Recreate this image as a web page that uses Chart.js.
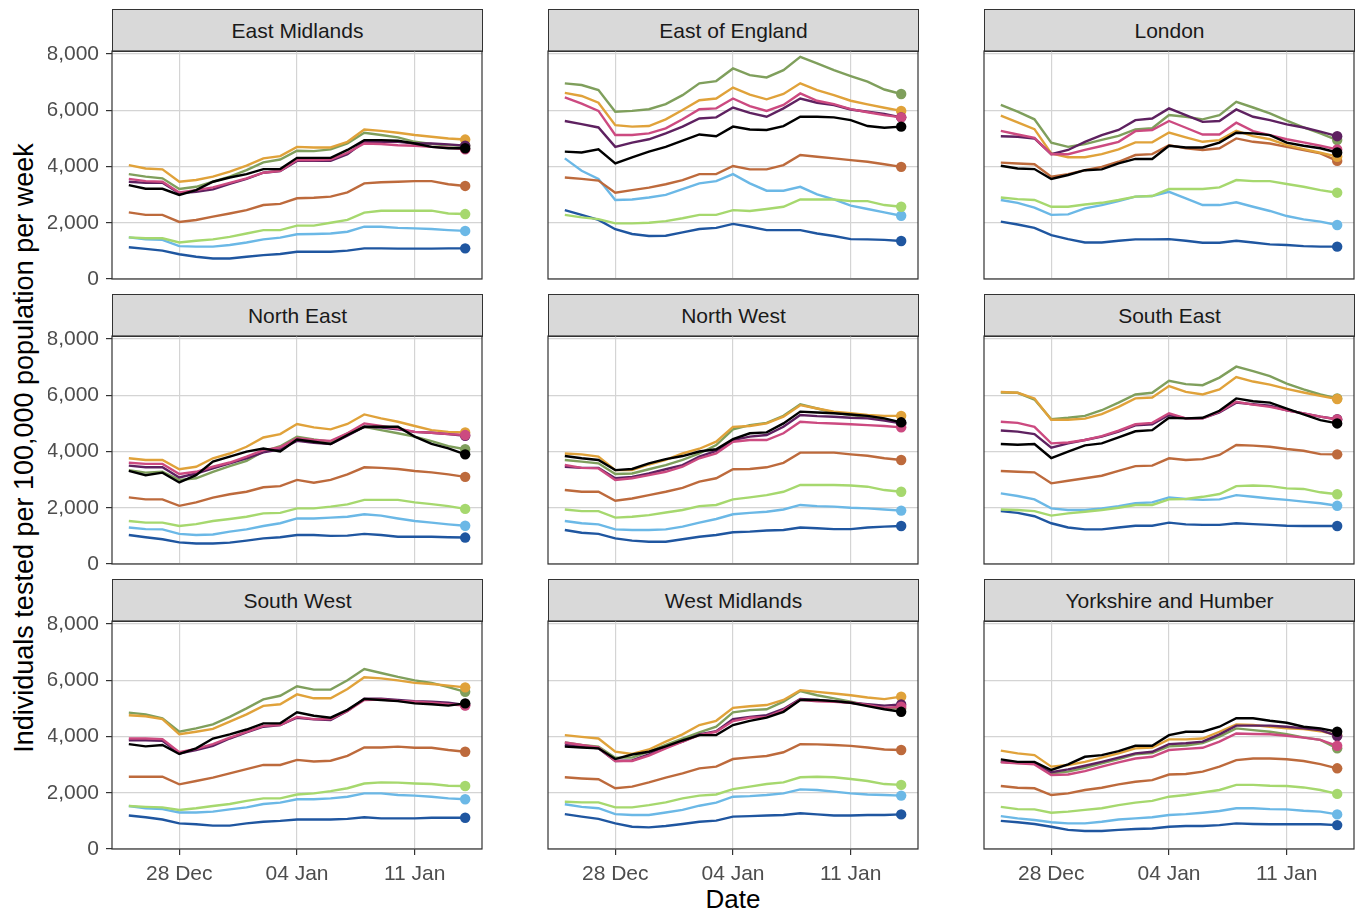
<!DOCTYPE html>
<html>
<head>
<meta charset="utf-8">
<script src="https://cdn.jsdelivr.net/npm/chart.js@4.4.1/dist/chart.umd.min.js"></script>
<style>
  body { margin: 0; background: #fff; }
  #page { position: relative; width: 1357px; height: 912px; overflow: hidden; font-family: "Liberation Sans", Arial, sans-serif; }
  .strip { position: absolute; box-sizing: border-box; background: #d9d9d9; border: 1px solid #333; color: #1a1a1a;
           font-size: 21px; display: flex; align-items: center; justify-content: center; }
  canvas { position: absolute; }
  .title { position: absolute; color: #000; white-space: nowrap; text-align: center; }
</style>
</head>
<body>
<div id="page">
  <div class="title" id="yTitle" style="left:24px; top:448px; font-size:27px; transform:translate(-50%,-50%) rotate(-90deg);">Individuals tested per 100,000 population per week</div>
  <div class="title" style="left:733px; top:899px; font-size:26px; transform:translate(-50%,-50%);">Date</div>
</div>
<script>
// days since 25 Dec (25 Dec .. 14 Jan)
const days = [0,1,2,3,4,5,6,7,8,9,10,11,12,13,14,15,16,17,18,19,20];
const tickDays = [3, 10, 17];
const tickLabels = ["28 Dec", "04 Jan", "11 Jan"];
const yTicks = [0, 2000, 4000, 6000, 8000];

const regions = ["East Midlands", "East of England", "London", "North East", "North West",
                 "South East", "South West", "West Midlands", "Yorkshire and Humber"];

// series colours, same order as the rows in every region array below
const seriesColours = ["#1f56a0", "#6bb8e6", "#a6d86e", "#bd6a3c", "#000000",
                       "#5e2160", "#cc4a80", "#e0a23a", "#7f9f5c"];
const seriesOrder = [8, 7, 6, 5, 0, 2, 1, 3, 4]; // black drawn on top

const eastMidlands = [
  [1130,1070,1010,880,790,730,730,790,850,890,970,970,970,1010,1090,1090,1080,1080,1080,1090,1090],
  [1480,1410,1390,1170,1150,1150,1210,1300,1410,1470,1590,1600,1620,1680,1860,1860,1820,1800,1780,1740,1710],
  [1480,1450,1450,1300,1360,1410,1500,1620,1740,1740,1900,1900,2000,2100,2360,2430,2430,2430,2430,2330,2310],
  [2370,2280,2280,2030,2100,2220,2330,2450,2630,2670,2870,2890,2930,3080,3400,3440,3460,3480,3480,3370,3310],
  [3340,3210,3210,2990,3160,3460,3610,3730,3910,3910,4310,4310,4310,4590,4940,4940,4920,4820,4700,4650,4650],
  [3460,3420,3420,3050,3100,3190,3380,3560,3780,3840,4200,4200,4200,4440,4880,4880,4880,4820,4820,4790,4740],
  [3560,3480,3460,3080,3160,3260,3420,3580,3780,3850,4230,4230,4250,4490,4820,4800,4760,4740,4700,4670,4610],
  [4050,3930,3900,3460,3520,3640,3820,4030,4290,4370,4700,4680,4680,4880,5320,5270,5200,5120,5060,5000,4960],
  [3730,3640,3580,3200,3280,3460,3640,3870,4150,4250,4560,4550,4610,4820,5200,5120,5040,4880,4800,4760,4740]
];
const eastOfEngland = [
  [2450,2280,2100,1770,1600,1530,1540,1660,1780,1820,1960,1860,1740,1740,1740,1620,1530,1420,1410,1390,1350],
  [4290,3850,3560,2810,2830,2900,2990,3200,3400,3480,3730,3400,3140,3140,3280,3010,2830,2610,2490,2370,2250],
  [2280,2190,2130,1980,1980,2000,2060,2160,2280,2280,2450,2420,2490,2570,2830,2830,2830,2770,2770,2630,2570],
  [3610,3560,3500,3070,3160,3250,3370,3520,3730,3730,4020,3900,3900,4050,4410,4350,4290,4230,4170,4080,3990],
  [4530,4500,4610,4110,4330,4530,4700,4920,5140,5080,5420,5320,5300,5440,5770,5770,5750,5650,5440,5380,5420],
  [5620,5510,5390,4700,4850,4970,5180,5420,5710,5750,6100,5910,5770,6070,6420,6270,6190,6030,5950,5870,5750],
  [6460,6240,5980,5120,5120,5180,5360,5680,6040,6070,6420,6150,5980,6190,6600,6340,6220,6040,5930,5830,5750],
  [6620,6510,6270,5470,5420,5440,5680,6010,6360,6420,6810,6560,6390,6580,6960,6720,6540,6340,6210,6090,5980],
  [6960,6900,6720,5950,5980,6040,6220,6540,6960,7040,7490,7250,7170,7430,7900,7670,7430,7220,7020,6740,6580]
];
const london = [
  [2040,1940,1820,1560,1420,1300,1300,1360,1410,1410,1420,1360,1290,1290,1360,1300,1230,1210,1170,1150,1150],
  [2810,2710,2540,2280,2300,2510,2630,2770,2930,2950,3100,2870,2630,2630,2730,2570,2420,2240,2120,2040,1920],
  [2900,2840,2810,2570,2570,2650,2710,2810,2930,2950,3200,3200,3200,3260,3520,3480,3480,3380,3280,3160,3070],
  [4140,4110,4080,3640,3730,3870,3990,4170,4410,4440,4760,4650,4590,4650,5000,4880,4820,4700,4590,4470,4200],
  [4030,3930,3910,3560,3700,3870,3900,4110,4270,4270,4740,4680,4680,4850,5200,5180,5120,4850,4740,4650,4500],
  [5080,5060,5000,4440,4590,4880,5120,5300,5650,5710,6070,5830,5590,5620,6030,5770,5650,5500,5390,5240,5080],
  [5270,5140,5020,4440,4440,4590,4730,4880,5260,5300,5620,5380,5140,5140,5560,5260,5120,4970,4860,4740,4610],
  [5810,5570,5330,4470,4330,4330,4440,4610,4860,4860,5210,5040,4880,4940,5270,5080,4970,4760,4620,4490,4350],
  [6190,5950,5680,4850,4700,4800,4950,5090,5320,5360,5830,5770,5680,5830,6300,6100,5890,5630,5390,5180,4940]
];
const northEast = [
  [1030,950,880,770,730,730,760,830,910,950,1030,1030,1000,1010,1070,1030,970,970,970,950,940],
  [1300,1240,1230,1070,1030,1050,1150,1230,1350,1450,1620,1620,1650,1680,1770,1720,1620,1530,1470,1410,1360],
  [1530,1470,1470,1350,1420,1530,1600,1680,1800,1820,1980,1980,2040,2120,2280,2280,2280,2190,2130,2060,1960],
  [2370,2300,2300,2070,2190,2360,2480,2570,2730,2770,2990,2890,2990,3190,3440,3420,3380,3310,3260,3190,3100],
  [3310,3160,3250,2900,3160,3640,3820,4000,4110,4000,4430,4350,4270,4590,4880,4880,4880,4530,4270,4110,3900],
  [3500,3440,3440,3080,3220,3400,3580,3760,3970,4080,4380,4310,4270,4560,4880,4850,4790,4700,4670,4620,4560],
  [3600,3560,3560,3200,3280,3460,3610,3820,4050,4150,4470,4410,4380,4650,5000,4910,4820,4700,4670,4620,4590],
  [3760,3700,3700,3370,3460,3760,3930,4170,4500,4620,4980,4860,4790,4980,5320,5180,5060,4910,4760,4700,4680],
  [3340,3250,3280,2990,3050,3280,3480,3670,4000,4190,4530,4430,4350,4650,4880,4760,4650,4530,4370,4190,4080]
];
const northWest = [
  [1210,1110,1070,910,830,790,790,880,970,1030,1130,1150,1190,1210,1300,1270,1240,1240,1300,1330,1350],
  [1530,1450,1410,1230,1210,1210,1230,1330,1470,1600,1770,1820,1860,1940,2100,2060,2040,2000,1980,1940,1900],
  [1940,1880,1880,1650,1680,1740,1830,1920,2060,2100,2300,2370,2450,2570,2810,2810,2810,2790,2750,2630,2570],
  [2630,2570,2570,2250,2330,2450,2570,2710,2930,3050,3370,3380,3440,3600,3960,3960,3960,3900,3850,3760,3700],
  [3840,3760,3700,3340,3380,3580,3730,3840,4000,4080,4440,4650,4680,5000,5420,5390,5360,5320,5270,5180,5040],
  [3460,3420,3420,3050,3100,3220,3370,3520,3820,4020,4410,4530,4590,4880,5300,5260,5240,5200,5180,5100,5000],
  [3520,3420,3400,2990,3050,3160,3280,3460,3760,3930,4350,4410,4410,4650,5060,5020,5000,4970,4940,4910,4860],
  [3930,3900,3820,3340,3340,3540,3700,3930,4100,4350,4880,4910,5000,5240,5650,5530,5420,5360,5300,5270,5270],
  [3700,3640,3580,3200,3220,3370,3520,3700,3930,4230,4790,4940,5020,5270,5680,5530,5390,5300,5240,5150,5000]
];
const southEast = [
  [1880,1820,1700,1450,1300,1230,1230,1300,1360,1360,1470,1410,1390,1390,1450,1420,1390,1360,1350,1350,1350],
  [2510,2420,2300,1980,1920,1920,1980,2060,2160,2190,2370,2310,2280,2300,2450,2390,2330,2280,2220,2160,2070],
  [1940,1920,1880,1720,1800,1860,1920,2000,2100,2100,2300,2310,2390,2490,2770,2790,2770,2690,2670,2550,2480],
  [3310,3280,3260,2870,2960,3050,3140,3310,3480,3500,3760,3700,3730,3880,4230,4210,4170,4090,4030,3910,3900],
  [4270,4240,4270,3770,4000,4220,4290,4500,4720,4760,5200,5180,5200,5450,5890,5790,5740,5530,5320,5120,5000],
  [4750,4710,4620,4140,4290,4410,4530,4710,4930,4970,5300,5180,5180,5390,5740,5680,5630,5470,5360,5240,5150],
  [5060,5020,4880,4290,4320,4410,4550,4740,4970,5020,5360,5180,5180,5420,5770,5670,5590,5470,5360,5240,5140],
  [6120,6090,5890,5130,5130,5170,5330,5590,5890,5920,6330,6120,6030,6210,6650,6490,6380,6230,6100,5980,5870],
  [6100,6090,5850,5150,5200,5270,5470,5740,6030,6090,6520,6400,6360,6630,7020,6860,6680,6420,6210,6030,5890]
];
const southWest = [
  [1190,1130,1050,910,880,830,830,910,970,1000,1050,1050,1050,1070,1130,1090,1090,1090,1110,1110,1110],
  [1530,1450,1420,1300,1300,1330,1410,1480,1600,1650,1770,1770,1800,1860,1980,1980,1920,1900,1860,1800,1770],
  [1530,1500,1480,1390,1450,1530,1600,1710,1800,1800,1940,1980,2060,2160,2330,2370,2360,2330,2310,2250,2240],
  [2570,2570,2570,2300,2420,2540,2690,2840,2990,2990,3170,3110,3140,3310,3610,3610,3640,3600,3600,3520,3460],
  [3730,3650,3700,3380,3580,3930,4080,4250,4470,4470,4860,4740,4670,4950,5340,5300,5260,5180,5150,5100,5180],
  [3870,3870,3850,3400,3520,3670,3930,4150,4350,4410,4670,4610,4590,4910,5350,5350,5300,5260,5240,5200,5120],
  [3930,3930,3910,3440,3560,3730,3960,4170,4380,4410,4700,4620,4620,4910,5300,5320,5270,5240,5200,5150,5100],
  [4760,4720,4620,4080,4170,4270,4530,4790,5090,5150,5500,5360,5360,5690,6110,6070,6000,5910,5870,5810,5750],
  [4850,4790,4650,4170,4290,4430,4700,5000,5320,5450,5790,5670,5670,6000,6400,6260,6120,6000,5910,5760,5590]
];
const westMidlands = [
  [1240,1150,1070,910,790,770,820,890,970,1010,1150,1170,1190,1210,1270,1230,1190,1190,1210,1210,1230],
  [1590,1500,1450,1240,1210,1210,1300,1390,1540,1650,1860,1880,1920,1980,2120,2100,2040,1980,1940,1920,1900],
  [1680,1660,1660,1480,1480,1560,1660,1800,1900,1940,2130,2220,2310,2370,2550,2570,2550,2490,2420,2310,2280],
  [2550,2510,2480,2160,2220,2370,2540,2690,2870,2930,3200,3260,3310,3440,3730,3720,3700,3670,3610,3540,3520],
  [3640,3610,3580,3200,3360,3460,3650,3860,4050,4050,4410,4560,4670,4880,5300,5300,5260,5200,5080,4970,4880],
  [3700,3640,3580,3130,3150,3370,3630,3820,4080,4190,4620,4700,4760,4980,5340,5300,5260,5200,5150,5100,5140],
  [3790,3700,3610,3130,3130,3320,3580,3820,4050,4170,4550,4670,4700,4940,5310,5250,5240,5200,5120,5020,5060],
  [4050,3990,3930,3460,3380,3540,3820,4080,4410,4560,5020,5080,5120,5300,5650,5590,5530,5470,5390,5330,5420],
  [3790,3700,3640,3250,3250,3460,3700,3930,4150,4350,4860,4940,4970,5240,5620,5470,5360,5240,5120,5020,5000]
];
const yorkshire = [
  [1000,950,890,790,680,640,640,680,710,730,790,820,820,850,910,890,880,880,880,880,850],
  [1170,1090,1030,950,910,910,970,1050,1090,1130,1210,1240,1290,1350,1450,1450,1420,1410,1360,1330,1230],
  [1500,1420,1410,1290,1330,1390,1450,1560,1650,1710,1860,1920,2010,2100,2280,2280,2250,2240,2190,2100,1960],
  [2240,2180,2160,1920,1980,2100,2180,2300,2390,2450,2650,2670,2750,2930,3160,3220,3220,3190,3130,3020,2870],
  [3190,3100,3100,2810,3010,3280,3340,3480,3670,3670,4050,4170,4170,4350,4650,4650,4560,4490,4350,4290,4170],
  [3100,3080,3050,2730,2830,2960,3100,3250,3400,3460,3730,3760,3820,4080,4390,4390,4390,4350,4290,4230,4020],
  [3080,3050,3010,2630,2650,2770,2930,3080,3220,3280,3520,3560,3600,3820,4110,4090,4080,4030,3960,3880,3670],
  [3500,3400,3340,2930,2990,3100,3250,3400,3580,3610,3900,3900,3930,4170,4430,4410,4350,4290,4270,4190,4050],
  [3100,3060,3050,2690,2750,2890,3050,3200,3370,3410,3650,3680,3770,4000,4290,4230,4170,4080,3970,3880,3580]
];
const regionData = [eastMidlands, eastOfEngland, london, northEast, northWest,
                    southEast, southWest, westMidlands, yorkshire];

Chart.defaults.font.family = '"Liberation Sans", Arial, sans-serif';

const page = document.getElementById("page");
const colLeft = [112, 548, 984];
const rowTop = [9, 294, 579];
const stripH = 42, plotW = 370, plotH = 228;
const yAxW = 64, xAxH = 44, padTop = 15;

// panel border drawn on top of everything
const borderPlugin = {
  id: "panelBorder",
  afterDraw(chart) {
    const a = chart.chartArea, ctx = chart.ctx;
    ctx.save();
    ctx.strokeStyle = "#333333";
    ctx.lineWidth = 1.2;
    ctx.strokeRect(a.left, a.top, a.right - a.left, a.bottom - a.top);
    ctx.restore();
  }
};

regions.forEach((name, k) => {
  const r = Math.floor(k / 3), c = k % 3;
  const leftCol = c === 0, bottomRow = r === 2;

  const strip = document.createElement("div");
  strip.className = "strip";
  strip.style.left = colLeft[c] + "px";
  strip.style.top = rowTop[r] + "px";
  strip.style.width = plotW + 1 + "px";
  strip.style.height = stripH + 1 + "px";
  strip.innerText = name;
  page.append(strip);

  const canvas = document.createElement("canvas");
  const w = yAxW + plotW + 2, h = plotH + padTop + xAxH;
  canvas.width = w; canvas.height = h;
  canvas.style.width = w + "px"; canvas.style.height = h + "px";
  canvas.style.left = (colLeft[c] - yAxW) + "px";
  canvas.style.top = (rowTop[r] + stripH - padTop) + "px";
  page.append(canvas);

  const last = days.length - 1;
  const datasets = regionData[k].map((vals, s) => ({
    data: vals.map((v, i) => ({ x: days[i], y: v })),
    borderColor: seriesColours[s],
    backgroundColor: seriesColours[s],
    borderWidth: 2.4,
    pointRadius: ctx => ctx.dataIndex === last ? 5.2 : 0,
    pointBorderWidth: 0,
    order: seriesOrder[s],
    tension: 0
  }));

  new Chart(canvas, {
    type: "line",
    data: { datasets: datasets },
    options: {
      responsive: false,
      animation: false,
      events: [],
      layout: { autoPadding: false, padding: { top: padTop, right: 2, left: 0, bottom: 0 } },
      plugins: { legend: { display: false }, tooltip: { enabled: false } },
      scales: {
        x: {
          type: "linear",
          min: -1, max: 21,
          afterBuildTicks: s => { s.ticks = tickDays.map(v => ({ value: v })); },
          afterFit: s => { s.height = xAxH; s.paddingLeft = 0; s.paddingRight = 0; },
          border: { display: false },
          grid: { color: "#d4d4d4", lineWidth: 1.2, drawTicks: bottomRow, tickLength: 6, tickColor: "#333333", tickWidth: 1.2 },
          ticks: {
            display: bottomRow,
            autoSkip: false, maxRotation: 0,
            padding: 7,
            color: "#4d4d4d",
            font: { size: 21 },
            callback: v => tickLabels[tickDays.indexOf(v)]
          }
        },
        y: {
          min: 0, max: 8110,
          afterBuildTicks: s => { s.ticks = yTicks.map(v => ({ value: v })); },
          afterFit: s => { s.width = yAxW; s.paddingTop = 0; s.paddingBottom = 0; },
          border: { display: false },
          grid: { color: "#d4d4d4", lineWidth: 1.2, drawTicks: leftCol, tickLength: 6, tickColor: "#333333", tickWidth: 1.2 },
          ticks: {
            display: leftCol,
            padding: 7,
            color: "#4d4d4d",
            font: { size: 21 },
            callback: v => v.toLocaleString("en-US")
          }
        }
      }
    },
    plugins: [borderPlugin]
  });
});
</script>
</body>
</html>
